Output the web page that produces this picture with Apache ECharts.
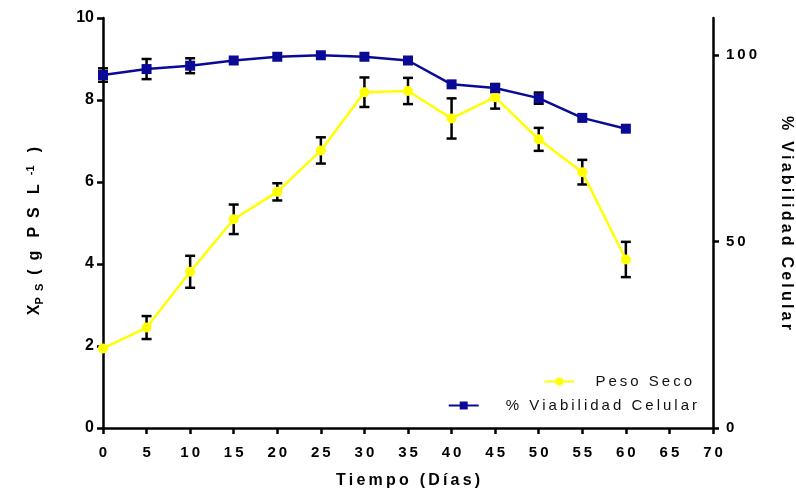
<!DOCTYPE html>
<html>
<head>
<meta charset="utf-8">
<script src="https://cdn.jsdelivr.net/npm/echarts@6/dist/echarts.min.js"></script>
<style>html,body{margin:0;padding:0;background:#fff;}#c{width:796px;height:493px;}</style>
</head>
<body>
<div id="c"></div>
<script>
const dias = [0, 5, 10, 15, 20, 25, 30, 35, 40, 45, 50, 55, 60];
const pesoSeco = [1.94, 2.45, 3.81, 5.09, 5.76, 6.77, 8.19, 8.22, 7.55, 8.07, 7.04, 6.24, 4.11];
const pesoSecoErr = [0, 0.28, 0.39, 0.36, 0.21, 0.32, 0.36, 0.32, 0.49, 0.28, 0.28, 0.30, 0.43];
const viabilidad = [94.7, 96.3, 97.2, 98.6, 99.6, 100.0, 99.6, 98.6, 92.2, 91.2, 88.5, 83.2, 80.3];
const viabilidadErr = [1.8, 2.7, 2.0, 0, 0, 0, 0, 0, 0, 1.1, 1.5, 0, 0];
const xTicks = [0, 5, 10, 15, 20, 25, 30, 35, 40, 45, 50, 55, 60, 65, 70];
const leftTicks = [0, 2, 4, 6, 8, 10];
const rightTicks = [0, 50, 100];

const TS = '\u2009';
const spaced = s => s.split('').join(TS);

const FONT = '"Liberation Sans", Arial, sans-serif';
const YEL = '#FFFF00';
const BLU = '#0A0A96';

function errData(vals, errs) {
  return dias.map((d, i) => [d, vals[i] - errs[i], vals[i] + errs[i]]).filter((r, i) => errs[i] > 0);
}
function errRender(params, api) {
  const x = api.value(0);
  const lo = api.coord([x, api.value(1)]);
  const hi = api.coord([x, api.value(2)]);
  const w = 5;
  const st = { stroke: '#000', lineWidth: 2.5 };
  return {
    type: 'group',
    children: [
      { type: 'line', shape: { x1: lo[0], y1: lo[1], x2: hi[0], y2: hi[1] }, style: st },
      { type: 'line', shape: { x1: lo[0] - w, y1: lo[1], x2: lo[0] + w, y2: lo[1] }, style: st },
      { type: 'line', shape: { x1: hi[0] - w, y1: hi[1], x2: hi[0] + w, y2: hi[1] }, style: st }
    ]
  };
}

const axisCommon = {
  axisLine: { show: true, lineStyle: { color: '#000', width: 2.5 } },
  splitLine: { show: false },
  nameTextStyle: { fontFamily: FONT, fontWeight: 'bold', fontSize: 15, color: '#000' }
};

const chart = echarts.init(document.getElementById('c'), null, { renderer: 'canvas' });
chart.setOption({
  backgroundColor: '#fff',
  animation: false,
  textStyle: { fontFamily: FONT },
  grid: { left: 103, right: 83, top: 18, bottom: 65, containLabel: false, outerBoundsMode: 'none' },
  legend: [
    {
      data: [{ name: 'Peso Seco' }],
      right: 99, top: 369, orient: 'vertical',
      itemWidth: 30, itemHeight: 10,
      formatter: n => spaced(n),
      textStyle: { fontFamily: FONT, fontSize: 15, color: '#111', padding: [0, 0, 0, 16] }
    },
    {
      data: [{ name: '% Viabilidad Celular' }],
      right: 94, top: 393, orient: 'vertical',
      itemWidth: 30, itemHeight: 10,
      formatter: n => spaced(n),
      textStyle: { fontFamily: FONT, fontSize: 15, color: '#111', padding: [0, 0, 0, 22] }
    }
  ],
  xAxis: Object.assign({}, axisCommon, {
    type: 'value', min: 0, max: 70, interval: 5,
    name: spaced('Tiempo (Días)'), nameLocation: 'middle', nameGap: 45,
    nameTextStyle: { fontFamily: FONT, fontWeight: 'bold', fontSize: 16, color: '#000' },
    axisLabel: { margin: 17, fontFamily: FONT, fontWeight: 'bold', fontSize: 15, color: '#000',
      customValues: xTicks, formatter: v => spaced(String(v)) },
    axisTick: { show: true, length: 6, lineStyle: { color: '#000', width: 2.5 }, customValues: xTicks }
  }),
  yAxis: [
    Object.assign({}, axisCommon, {
      type: 'value', min: 0, max: 10, interval: 2, position: 'left',
      name: 'X{sub|P  S}  (  g   P  S   L  {sup|-1}   )',
      nameLocation: 'middle', nameGap: 58, nameRotate: 90,
      nameTextStyle: {
        fontFamily: FONT, fontWeight: 'bold', fontSize: 16, color: '#000',
        padding: [0, 16, 0, 0],
        rich: {
          sub: { fontFamily: FONT, fontWeight: 'bold', fontSize: 11, color: '#000', verticalAlign: 'bottom', padding: [9, 0, 0, 0] },
          sup: { fontFamily: FONT, fontWeight: 'bold', fontSize: 11, color: '#000', verticalAlign: 'top', padding: [0, 0, 9, 0] }
        }
      },
      axisLabel: { margin: 9, fontFamily: FONT, fontWeight: 'bold', fontSize: 16, color: '#000',
        customValues: leftTicks, formatter: v => String(v) },
      axisTick: { show: true, length: 6, lineStyle: { color: '#000', width: 2.5 }, customValues: leftTicks }
    }),
    Object.assign({}, axisCommon, {
      type: 'value', min: 0, max: 110, interval: 50, position: 'right',
      name: spaced('% Viabilidad Celular'), nameLocation: 'middle', nameGap: 65, nameRotate: -90,
      nameTextStyle: { fontFamily: FONT, fontWeight: 'bold', fontSize: 16, color: '#000' },
      axisLabel: { margin: 13, fontFamily: FONT, fontWeight: 'bold', fontSize: 15, color: '#000',
        customValues: rightTicks, formatter: v => spaced(String(v)) },
      axisTick: { show: true, length: 6, lineStyle: { color: '#000', width: 2.5 }, customValues: rightTicks }
    })
  ],
  series: [
    {
      type: 'custom', name: 'errPeso', yAxisIndex: 0, z: 1,
      renderItem: errRender, data: errData(pesoSeco, pesoSecoErr), silent: true
    },
    {
      type: 'custom', name: 'errViab', yAxisIndex: 1, z: 1,
      renderItem: errRender, data: errData(viabilidad, viabilidadErr), silent: true
    },
    {
      name: 'Peso Seco', type: 'line', yAxisIndex: 0, z: 3,
      data: dias.map((d, i) => [d, pesoSeco[i]]),
      symbol: 'circle', symbolSize: 10, showAllSymbol: true,
      lineStyle: { color: YEL, width: 2.5 },
      itemStyle: { color: YEL, borderWidth: 0 }
    },
    {
      name: '% Viabilidad Celular', type: 'line', yAxisIndex: 1, z: 3,
      data: dias.map((d, i) => [d, viabilidad[i]]),
      symbol: 'rect', symbolSize: 10, showAllSymbol: true,
      lineStyle: { color: BLU, width: 2.5 },
      itemStyle: { color: BLU, borderWidth: 0 }
    }
  ]
});
</script>
</body>
</html>
